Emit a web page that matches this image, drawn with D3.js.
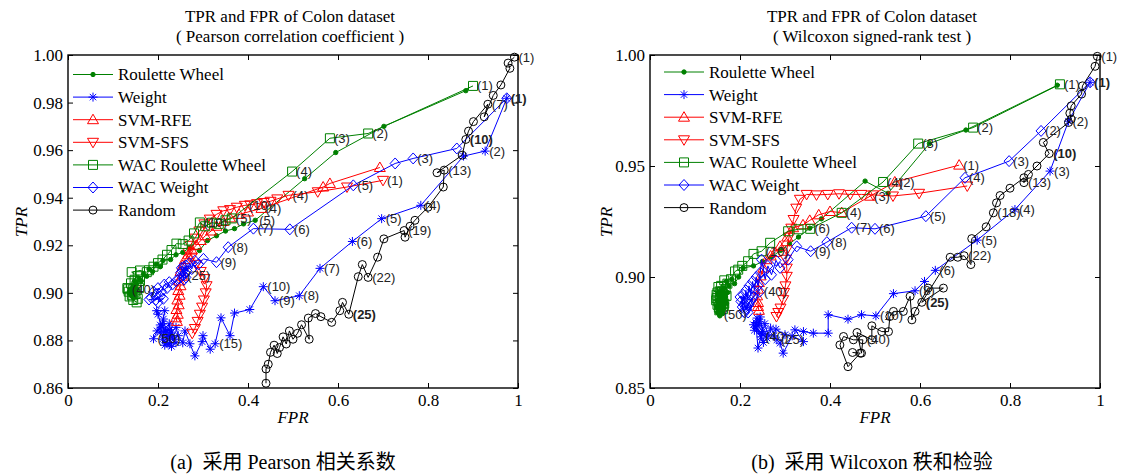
<!DOCTYPE html>
<html>
<head>
<meta charset="utf-8">
<script src="https://cdn.jsdelivr.net/npm/d3@7"></script>
<style>
  body { margin: 0; background: #fff; }
  svg { display: block; }
</style>
</head>
<body>
<div id="chart"></div>
<script>
// ----------------------------------------------------------------------
// data: [FPR, TPR]

const seriesNames = ["Roulette Wheel", "Weight", "SVM-RFE", "SVM-SFS",
                     "WAC Roulette Wheel", "WAC Weight", "Random"];
const xTicks = [0, 0.2, 0.4, 0.6, 0.8, 1];
const yTicksA = [0.86, 0.88, 0.90, 0.92, 0.94, 0.96, 0.98, 1.00];
const yTicksB = [0.85, 0.90, 0.95, 1.00];

// (a) Pearson correlation coefficient
const a_roulette = [[0.884,0.985],[0.702,0.970],[0.595,0.959],[0.526,0.948],[0.416,0.9305],[0.39,0.929],[0.37,0.927],[0.35,0.926],[0.33,0.924],[0.31,0.922],
  [0.292,0.9178],[0.27,0.919],[0.255,0.917],[0.24,0.916],[0.228,0.914],[0.211,0.9136],[0.205,0.911],[0.196,0.912],[0.188,0.909],[0.18,0.910],
  [0.175,0.907],[0.168,0.908],[0.163,0.905],[0.158,0.906],[0.152,0.904],[0.148,0.905],[0.15,0.902],[0.145,0.903],[0.142,0.901],[0.147,0.900],
  [0.14,0.899],[0.145,0.898],[0.138,0.900],[0.143,0.902],[0.137,0.901],[0.141,0.899],[0.136,0.900],[0.139,0.901],[0.144,0.9005],[0.14,0.900]];
const a_weight = [[0.975,0.9818],[0.927,0.9596],[0.879,0.9575],[0.784,0.9368],[0.697,0.9312],[0.632,0.9216],[0.56,0.9103],[0.514,0.8988],[0.46,0.8967],[0.434,0.9026],
  [0.404,0.893],[0.37,0.8915],[0.36,0.882],[0.34,0.8895],[0.327,0.8786],[0.316,0.8763],[0.3,0.882],[0.298,0.8795],[0.282,0.8735],[0.271,0.8786],
  [0.26,0.884],[0.255,0.879],[0.245,0.882],[0.24,0.8855],[0.23,0.8835],[0.225,0.887],[0.218,0.884],[0.212,0.889],[0.208,0.8855],[0.2,0.891],
  [0.197,0.8925],[0.215,0.8925],[0.21,0.887],[0.22,0.881],[0.205,0.8835],[0.215,0.878],[0.225,0.8785],[0.21,0.8805],[0.23,0.8775],[0.22,0.8825],
  [0.235,0.8805],[0.228,0.8815],[0.218,0.879],[0.24,0.879],[0.212,0.8835],[0.225,0.8845],[0.232,0.882],[0.205,0.8865],[0.198,0.884],[0.19,0.8807]];
const a_svmRfe = [[0.693,0.9527],[0.582,0.946],[0.567,0.9445],[0.43,0.9355],[0.40,0.934],[0.38,0.933],[0.36,0.9315],[0.345,0.930],[0.33,0.928],[0.318,0.926],
  [0.305,0.924],[0.295,0.922],[0.285,0.920],[0.275,0.918],[0.267,0.916],[0.26,0.914],[0.255,0.9115],[0.25,0.909],[0.253,0.907],[0.247,0.905],
  [0.25,0.903],[0.245,0.901],[0.248,0.899],[0.243,0.897],[0.246,0.895],[0.241,0.893],[0.244,0.891],[0.24,0.8895],[0.242,0.888]];
const a_svmSfs = [[0.70,0.9473],[0.62,0.9445],[0.555,0.9425],[0.49,0.941],[0.465,0.9395],[0.45,0.9385],[0.435,0.938],[0.42,0.9375],[0.405,0.937],[0.393,0.9368],
  [0.375,0.936],[0.36,0.935],[0.345,0.9345],[0.33,0.933],[0.315,0.931],[0.303,0.929],[0.292,0.926],[0.282,0.923],[0.272,0.920],[0.268,0.917],
  [0.275,0.915],[0.285,0.912],[0.295,0.909],[0.303,0.906],[0.308,0.903],[0.306,0.900],[0.302,0.897],[0.298,0.894],[0.293,0.891],[0.288,0.888],
  [0.282,0.885],[0.276,0.883]];
const a_wacRoulette = [[0.90,0.987],[0.667,0.967],[0.582,0.965],[0.498,0.951],[0.364,0.9313],[0.35,0.9305],[0.335,0.929],[0.32,0.9295],[0.305,0.928],[0.293,0.9296],
  [0.28,0.925],[0.268,0.922],[0.255,0.9205],[0.241,0.9207],[0.23,0.918],[0.22,0.916],[0.21,0.914],[0.2,0.9125],[0.19,0.911],[0.18,0.9095],
  [0.175,0.9087],[0.16,0.9094],[0.1415,0.9087],[0.155,0.907],[0.148,0.9055],[0.16,0.905],[0.14,0.904],[0.152,0.903],[0.145,0.9015],[0.158,0.902],
  [0.135,0.9005],[0.15,0.8995],[0.142,0.899],[0.155,0.8975],[0.1526,0.896],[0.145,0.897],[0.137,0.8985],[0.148,0.9005],[0.132,0.902],[0.133,0.9015]];
const a_wacWeight = [[0.975,0.9818],[0.864,0.9607],[0.767,0.9565],[0.727,0.9544],[0.634,0.9452],[0.493,0.9267],[0.412,0.927],[0.356,0.9192],[0.33,0.9129],[0.301,0.9143],
  [0.29,0.912],[0.282,0.9135],[0.275,0.910],[0.27,0.9125],[0.265,0.909],[0.262,0.9115],[0.26,0.9085],[0.258,0.911],[0.254,0.909],[0.262,0.9065],
  [0.252,0.9105],[0.258,0.9055],[0.25,0.9085],[0.247,0.906],[0.256,0.9073],[0.24,0.905],[0.232,0.9035],[0.225,0.9045],[0.22,0.902],[0.214,0.9035],
  [0.208,0.9005],[0.2,0.902],[0.196,0.8995],[0.19,0.9005],[0.185,0.898],[0.195,0.897],[0.205,0.8985],[0.2,0.896],[0.212,0.8975],[0.18,0.8972]];
const a_random = [[0.992,0.9991],[0.978,0.9966],[0.982,0.9944],[0.962,0.9874],[0.945,0.983],[0.925,0.974],[0.933,0.9793],[0.901,0.972],[0.89,0.968],[0.884,0.9645],
  [0.876,0.9579],[0.82,0.9505],[0.836,0.9516],[0.834,0.9445],[0.80,0.936],[0.771,0.9305],[0.76,0.928],[0.749,0.9234],[0.747,0.9262],[0.702,0.9227],
  [0.688,0.915],[0.667,0.9065],[0.654,0.9119],[0.645,0.9068],[0.624,0.891],[0.61,0.896],[0.604,0.8925],[0.586,0.8876],[0.562,0.890],[0.55,0.8913],
  [0.534,0.8894],[0.536,0.8805],[0.519,0.8866],[0.51,0.883],[0.50,0.8805],[0.492,0.884],[0.485,0.8785],[0.478,0.8815],[0.47,0.877],[0.465,0.8745],
  [0.458,0.878],[0.45,0.875],[0.445,0.870],[0.44,0.868],[0.44,0.862]];

// point labels: [index in series, text]
const a_rouletteLabels = [[4,"(5)"]];
const a_weightLabels = [[0,"(1)"],[1,"(2)"],[3,"(4)"],[4,"(5)"],[5,"(6)"],[6,"(7)"],[7,"(8)"],[8,"(9)"],[9,"(10)"],[14,"(15)"],[49,"(50)"]];
const a_svmRfeLabels = [[3,"(4)"]];
const a_svmSfsLabels = [[0,"(1)"],[3,"(4)"],[9,"(10)"]];
const a_wacRouletteLabels = [[0,"(1)"],[1,"(2)"],[2,"(3)"],[3,"(4)"],[4,"(5)"],[9,"(10)"],[39,"(40)"]];
const a_wacWeightLabels = [[2,"(3)"],[4,"(5)"],[5,"(6)"],[6,"(7)"],[7,"(8)"],[8,"(9)"],[24,"(25)"]];
const a_randomLabels = [[0,"(1)"],[6,"(7)"],[9,"(10)"],[12,"(13)"],[18,"(19)"],[21,"(22)"],[24,"(25)"]];

// (b) Wilcoxon signed-rank test
const b_roulette = [[0.905,0.9864],[0.702,0.9662],[0.621,0.9601],[0.529,0.9377],[0.478,0.9432],[0.381,0.9262],[0.355,0.922],[0.33,0.918],[0.31,0.915],[0.29,0.912],
  [0.27,0.909],[0.25,0.907],[0.23,0.905],[0.207,0.904],[0.197,0.900],[0.188,0.897],[0.182,0.899],[0.175,0.896],[0.17,0.898],[0.165,0.895],
  [0.172,0.893],[0.16,0.894],[0.168,0.891],[0.158,0.892],[0.163,0.889],[0.155,0.890],[0.17,0.888],[0.16,0.887],[0.152,0.888],[0.165,0.886],
  [0.157,0.885],[0.15,0.886],[0.162,0.8845],[0.155,0.8875],[0.168,0.8895],[0.153,0.8915],[0.16,0.8905],[0.149,0.8895],[0.166,0.8925],[0.158,0.8935],
  [0.151,0.8925],[0.163,0.8865],[0.156,0.8855],[0.149,0.887],[0.159,0.8885],[0.153,0.8845],[0.161,0.8835],[0.155,0.8825],[0.15,0.884],[0.155,0.883]];
const b_weight = [[0.978,0.9877],[0.93,0.9702],[0.889,0.9477],[0.811,0.9304],[0.727,0.9166],[0.634,0.903],[0.61,0.898],[0.589,0.8938],[0.541,0.8925],[0.502,0.8825],
  [0.47,0.883],[0.44,0.881],[0.396,0.883],[0.396,0.8747],[0.363,0.8747],[0.341,0.8754],[0.322,0.8762],[0.341,0.8709],[0.316,0.8735],[0.296,0.8657],
  [0.289,0.8702],[0.30,0.874],[0.28,0.8765],[0.275,0.8735],[0.282,0.8717],[0.268,0.877],[0.262,0.874],[0.255,0.879],[0.25,0.8755],[0.245,0.882],
  [0.24,0.878],[0.235,0.8795],[0.24,0.868],[0.248,0.8745],[0.232,0.876],[0.238,0.8815],[0.26,0.8725],[0.23,0.8785],[0.252,0.8705],[0.247,0.873],
  [0.236,0.8775],[0.243,0.8798]];
const b_svmRfe = [[0.687,0.9504],[0.544,0.9428],[0.489,0.9364],[0.426,0.929],[0.40,0.9295],[0.375,0.928],[0.355,0.9255],[0.34,0.9235],[0.318,0.9222],[0.305,0.918],
  [0.289,0.9138],[0.278,0.911],[0.268,0.9095],[0.259,0.9078],[0.252,0.904],[0.246,0.9005],[0.242,0.8975],[0.24,0.8945],[0.238,0.8915],[0.24,0.8885],
  [0.24,0.8867],[0.242,0.885]];
const b_svmSfs = [[0.705,0.941],[0.598,0.9377],[0.54,0.9365],[0.496,0.937],[0.47,0.9372],[0.445,0.9372],[0.42,0.9375],[0.395,0.9372],[0.37,0.937],[0.348,0.9372],
  [0.333,0.935],[0.325,0.931],[0.319,0.9259],[0.314,0.922],[0.309,0.918],[0.304,0.9123],[0.302,0.908],[0.304,0.904],[0.304,0.9003],[0.301,0.896],
  [0.298,0.893],[0.296,0.8898],[0.29,0.886],[0.285,0.884],[0.281,0.8822]];
const b_wacRoulette = [[0.911,0.9868],[0.718,0.9673],[0.596,0.9601],[0.518,0.9428],[0.426,0.9289],[0.356,0.9217],[0.33,0.9215],[0.307,0.9206],[0.267,0.9154],[0.248,0.9116],
  [0.23,0.9104],[0.218,0.9071],[0.205,0.905],[0.196,0.9033],[0.189,0.9025],[0.18,0.899],[0.172,0.897],[0.165,0.8985],[0.158,0.896],[0.168,0.8945],
  [0.152,0.8955],[0.162,0.8925],[0.155,0.8935],[0.148,0.892],[0.16,0.8905],[0.152,0.889],[0.165,0.888],[0.157,0.8865],[0.15,0.8875],[0.162,0.8855],
  [0.154,0.885],[0.147,0.8895],[0.16,0.8935],[0.156,0.891],[0.17,0.8915],[0.15,0.893],[0.158,0.8885],[0.164,0.8868],[0.153,0.8862],[0.148,0.8905]];
const b_wacWeight = [[0.978,0.9877],[0.869,0.9658],[0.798,0.9522],[0.70,0.9447],[0.613,0.9274],[0.50,0.9217],[0.448,0.9222],[0.393,0.9157],[0.357,0.9116],[0.326,0.9138],
  [0.307,0.9078],[0.289,0.9041],[0.28,0.9075],[0.27,0.901],[0.262,0.905],[0.256,0.899],[0.248,0.9078],[0.245,0.902],[0.24,0.896],[0.236,0.900],
  [0.232,0.894],[0.228,0.898],[0.224,0.892],[0.22,0.896],[0.216,0.890],[0.213,0.894],[0.21,0.888],[0.207,0.892],[0.205,0.8865],[0.21,0.884],
  [0.202,0.889],[0.215,0.8855],[0.22,0.8875],[0.208,0.8845],[0.225,0.8895],[0.2,0.891],[0.212,0.8865],[0.23,0.891],[0.218,0.884],[0.244,0.8934]];
const b_random = [[0.994,0.9994],[0.989,0.9949],[0.961,0.9861],[0.959,0.9824],[0.936,0.9771],[0.933,0.9738],[0.936,0.9711],[0.93,0.9696],[0.874,0.9606],[0.887,0.9556],
  [0.86,0.950],[0.841,0.9462],[0.831,0.9425],[0.831,0.9447],[0.80,0.940],[0.778,0.9367],[0.770,0.9334],[0.763,0.9289],[0.747,0.9226],[0.715,0.9173],
  [0.713,0.9056],[0.698,0.9096],[0.684,0.9089],[0.667,0.9089],[0.604,0.8886],[0.652,0.895],[0.618,0.895],[0.589,0.8845],[0.582,0.8807],[0.578,0.8913],
  [0.563,0.8845],[0.541,0.8845],[0.533,0.8822],[0.53,0.8754],[0.515,0.8754],[0.493,0.878],[0.493,0.8717],[0.46,0.875],[0.47,0.8657],[0.473,0.8717],
  [0.452,0.8717],[0.43,0.8732],[0.422,0.8694],[0.44,0.8596],[0.467,0.8657],[0.45,0.866]];

const b_rouletteLabels = [[49,"(50)"]];
const b_weightLabels = [[0,"(1)"],[1,"(2)"],[2,"(3)"],[3,"(4)"],[4,"(5)"],[5,"(6)"],[7,"(8)"],[9,"(10)"],[24,"(25)"],[39,"(40)"]];
const b_svmRfeLabels = [[0,"(1)"],[1,"(2)"],[2,"(3)"],[3,"(4)"]];
const b_svmSfsLabels = [];
const b_wacRouletteLabels = [[0,"(1)"],[1,"(2)"],[2,"(3)"],[3,"(4)"],[5,"(6)"],[9,"(10)"]];
const b_wacWeightLabels = [[1,"(2)"],[2,"(3)"],[3,"(4)"],[4,"(5)"],[5,"(6)"],[6,"(7)"],[7,"(8)"],[8,"(9)"],[39,"(40)"]];
const b_randomLabels = [[0,"(1)"],[9,"(10)"],[12,"(13)"],[17,"(18)"],[21,"(22)"],[24,"(25)"],[39,"(40)"]];

// ----------------------------------------------------------------------

const styles = [
    {color: "#008000", marker: "dot"},
    {color: "#0000ff", marker: "star"},
    {color: "#ff0000", marker: "up"},
    {color: "#ff0000", marker: "down"},
    {color: "#008000", marker: "square"},
    {color: "#0000ff", marker: "diamond"},
    {color: "#000000", marker: "circle"}
];
// labels drawn in bold in the figure
const boldLabels = ["1:(1)", "6:(10)", "6:(25)"];

function markerPath(kind) {
    switch (kind) {
        case "dot": return d3.symbol(d3.symbolCircle, 15)();
        case "star": return "M-4.5,0H4.5M0,-4.5V4.5M-3.2,-3.2L3.2,3.2M-3.2,3.2L3.2,-3.2";
        case "up": return "M0,-5.5L5.5,4L-5.5,4Z";
        case "down": return "M0,5.5L5.5,-4L-5.5,-4Z";
        case "square": return "M-4.5,-4.5H4.5V4.5H-4.5Z";
        case "diamond": return "M0,-5.5L5,0L0,5.5L-5,0Z";
        default: return d3.symbol(d3.symbolCircle, Math.PI * 16)();
    }
}

const panels = [
    {
        left: 68, yDomain: [0.86, 1.0], yTicks: yTicksA,
        title2: "( Pearson correlation coefficient )",
        caption: "(a)  采用 Pearson 相关系数",
        series: [a_roulette, a_weight, a_svmRfe, a_svmSfs, a_wacRoulette, a_wacWeight, a_random],
        labels: [a_rouletteLabels, a_weightLabels, a_svmRfeLabels, a_svmSfsLabels, a_wacRouletteLabels, a_wacWeightLabels, a_randomLabels],
        legendX: 73, legendY: 74.5, tprX: 22, captionX: 283
    },
    {
        left: 650, yDomain: [0.85, 1.0], yTicks: yTicksB,
        title2: "( Wilcoxon signed-rank test )",
        caption: "(b)  采用 Wilcoxon 秩和检验",
        series: [b_roulette, b_weight, b_svmRfe, b_svmSfs, b_wacRoulette, b_wacWeight, b_random],
        labels: [b_rouletteLabels, b_weightLabels, b_svmRfeLabels, b_svmSfsLabels, b_wacRouletteLabels, b_wacWeightLabels, b_randomLabels],
        legendX: 664, legendY: 72, tprX: 607, captionX: 872
    }
];

const plotTop = 55, plotBottom = 388, plotW = 450;

const svg = d3.select("#chart").append("svg")
    .attr("width", 1121).attr("height", 475)
    .style("font-family", "'Liberation Serif', 'Times New Roman', serif");

panels.forEach(cfg => drawPanel(cfg));

function drawPanel(cfg) {
    const x = d3.scaleLinear().domain([0, 1]).range([cfg.left, cfg.left + plotW]);
    const y = d3.scaleLinear().domain(cfg.yDomain).range([plotBottom, plotTop]);
    const cx = cfg.left + plotW / 2;
    const g = svg.append("g");

    // axes with inward ticks on all four sides
    const ax = g.append("g");
    ax.append("g").attr("transform", `translate(0,${plotBottom})`)
        .call(d3.axisBottom(x).tickValues(xTicks).tickFormat(d => String(d))
            .tickSizeInner(-5).tickSizeOuter(0).tickPadding(6));
    ax.append("g").attr("transform", `translate(0,${plotTop})`)
        .call(d3.axisTop(x).tickValues(xTicks).tickFormat("")
            .tickSizeInner(-5).tickSizeOuter(0));
    ax.append("g").attr("transform", `translate(${cfg.left},0)`)
        .call(d3.axisLeft(y).tickValues(cfg.yTicks).tickFormat(d3.format(".2f"))
            .tickSizeInner(-5).tickSizeOuter(0).tickPadding(5));
    ax.append("g").attr("transform", `translate(${cfg.left + plotW},0)`)
        .call(d3.axisRight(y).tickValues(cfg.yTicks).tickFormat("")
            .tickSizeInner(-5).tickSizeOuter(0));
    ax.selectAll("text")
        .attr("font-family", "'Liberation Serif', serif")
        .attr("font-size", 17).attr("fill", "#000");
    ax.selectAll(".domain").remove();
    g.append("rect")
        .attr("x", cfg.left).attr("y", plotTop)
        .attr("width", plotW).attr("height", plotBottom - plotTop)
        .attr("fill", "none").attr("stroke", "#000").attr("stroke-width", 1.4);

    // titles
    g.append("text").attr("x", cx - 3).attr("y", 22).attr("text-anchor", "middle")
        .attr("font-size", 17).text("TPR and FPR of Colon dataset");
    g.append("text").attr("x", cx - 3).attr("y", 42).attr("text-anchor", "middle")
        .attr("font-size", 17).text(cfg.title2);

    // axis titles
    g.append("text").attr("x", cx).attr("y", 423).attr("text-anchor", "middle")
        .attr("font-size", 17).attr("font-style", "italic").text("FPR");
    g.append("text").attr("transform", `translate(${cfg.tprX + 5},222) rotate(-90)`)
        .attr("text-anchor", "middle").attr("font-size", 17).attr("font-style", "italic").text("TPR");

    // caption under the panel
    g.append("text").attr("x", cfg.captionX).attr("y", 469).attr("text-anchor", "middle")
        .attr("font-size", 20).style("white-space", "pre")
        .attr("font-family", "'Liberation Serif', 'Noto Sans CJK SC', serif")
        .text(cfg.caption);

    // series
    const line = d3.line().x(d => x(d[0])).y(d => y(d[1]));
    cfg.series.forEach((pts, si) => {
        const st = styles[si];
        const sg = g.append("g");
        sg.append("path").datum(pts).attr("d", line)
            .attr("fill", "none").attr("stroke", st.color).attr("stroke-width", 1);
        sg.selectAll("path.mk").data(pts).join("path").attr("class", "mk")
            .attr("transform", d => `translate(${x(d[0])},${y(d[1])})`)
            .attr("d", markerPath(st.marker))
            .attr("fill", st.marker === "dot" ? st.color : "none")
            .attr("stroke", st.color).attr("stroke-width", 1);
    });

    // point labels
    const lg = g.append("g").attr("font-family", "'Liberation Sans', Arial, sans-serif")
        .attr("font-size", 13).attr("fill", "#222");
    cfg.labels.forEach((lbls, si) => {
        lbls.forEach(([i, t]) => {
            const p = cfg.series[si][i];
            lg.append("text").attr("x", x(p[0]) + 4).attr("y", y(p[1]))
                .attr("dy", "0.35em")
                .attr("font-weight", boldLabels.includes(si + ":" + t) ? "bold" : "normal")
                .text(t);
        });
    });

    // legend
    const leg = g.append("g");
    seriesNames.forEach((name, i) => {
        const st = styles[i];
        const ly = cfg.legendY + i * 22.6;
        leg.append("line").attr("x1", cfg.legendX).attr("x2", cfg.legendX + 40)
            .attr("y1", ly).attr("y2", ly).attr("stroke", st.color).attr("stroke-width", 1);
        leg.append("path").attr("transform", `translate(${cfg.legendX + 20},${ly})`)
            .attr("d", markerPath(st.marker))
            .attr("fill", st.marker === "dot" ? st.color : "none").attr("stroke", st.color);
        leg.append("text").attr("x", cfg.legendX + 45).attr("y", ly).attr("dy", "0.35em")
            .attr("font-size", 17).text(name);
    });
}
</script>
</body>
</html>
